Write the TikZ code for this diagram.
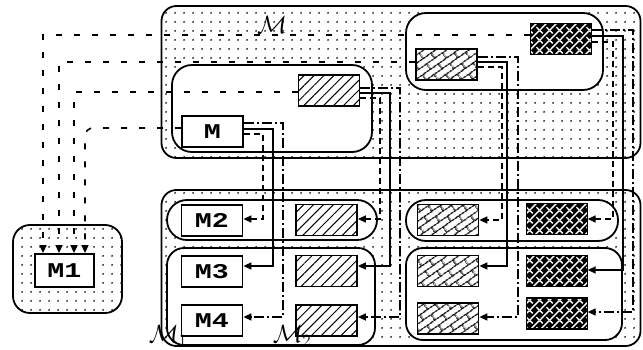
\documentclass[tikz,border=0pt]{standalone}
\usepackage{fontspec}
\newfontfamily\boxfont{Liberation Mono}[FakeStretch=1.35]
\usetikzlibrary{patterns,patterns.meta,arrows.meta}

\tikzdeclarepattern{
  name=sdots,
  type=uncolored,
  bottom left={(0pt,0pt)},
  top right={(9pt,9pt)},
  tile size={(9pt,9pt)},
  code={\fill (4.5pt,4.5pt) circle (1.05pt);}
}
\tikzdeclarepattern{
  name=mybrick,
  type=uncolored,
  bottom left={(0pt,0pt)},
  top right={(20pt,13pt)},
  tile size={(20pt,13pt)},
  tile transformation={rotate=35},
  code={\draw[line width=1.3pt] (0pt,3pt)--(20pt,3pt) (0pt,9.5pt)--(20pt,9.5pt)
        (5pt,3pt)--(5pt,9.5pt) (15pt,9.5pt)--(15pt,13pt) (15pt,0pt)--(15pt,3pt);}
}
\tikzdeclarepattern{
  name=myweave,
  type=colored,
  bottom left={(0pt,0pt)},
  top right={(10pt,10pt)},
  tile size={(10pt,10pt)},
  code={\fill[black] (0pt,0pt) rectangle (10pt,10pt);
        \draw[white,line width=1.5pt] (0pt,0pt)--(10pt,10pt);
        \draw[white,line width=1.5pt] (0pt,10pt)--(3pt,7pt) (7pt,3pt)--(10pt,0pt);}
}

\begin{document}
\begin{tikzpicture}[x=1pt,y=-1pt,
  cont/.style={draw, line width=1.8pt, rounded corners=15pt, pattern=sdots, inner sep=0pt},
  inbox/.style={draw, line width=1.8pt, fill=white, inner sep=0pt},
  mbox/.style={draw, line width=1.8pt, fill=white, minimum width=61pt, minimum height=31pt,
    inner sep=0pt, font=\boxfont\bfseries\fontsize{21}{21}\selectfont},
  hatchb/.style={draw, line width=1.8pt, minimum width=61pt, minimum height=31pt, inner sep=0pt,
    pattern={Lines[angle=45,distance=7pt,line width=1pt]}},
  brickb/.style={draw, line width=1.8pt, minimum width=61pt, minimum height=31pt, inner sep=0pt,
    pattern=mybrick},
  darkb/.style={fill=black, minimum width=61pt, minimum height=31pt, inner sep=0pt,
    postaction={pattern=myweave}, postaction={draw, line width=1.8pt}},
  tipc/.style={-{Triangle[length=8pt,width=7pt]}},
  solc/.style={line width=1.6pt, tipc},
  dashc/.style={solc, dash pattern=on 6pt off 4pt},
  ddc/.style={solc, dash pattern=on 10pt off 3pt on 2pt off 3pt},
  m1c/.style={line width=1.6pt, tipc, dash pattern=on 6pt off 12pt},
  lab/.style={inner sep=0pt, font=\fontsize{23}{23}\selectfont}
]
\useasboundingbox (0,0) rectangle (643,350);

% containers
\node[cont, minimum width=479pt, minimum height=152pt] (Mc) at (401,82) {};
\node[cont, minimum width=479pt, minimum height=156pt] (Mb) at (401,268) {};
\node[cont, rounded corners=17pt, minimum width=109pt, minimum height=88pt] (M1c) at (67.5,269) {};

% inner rounded boxes
\node[inbox, rounded corners=20pt, minimum width=200pt, minimum height=87pt] (tl) at (272,108.5) {};
\node[inbox, rounded corners=20pt, minimum width=197pt, minimum height=77pt] (tr) at (504.5,51.5) {};
\node[inbox, rounded corners=20pt, minimum width=210pt, minimum height=40pt] (lp) at (272,220) {};
\node[inbox, rounded corners=17pt, minimum width=208pt, minimum height=97pt] (ll) at (271,296.5) {};
\node[inbox, rounded corners=20pt, minimum width=212pt, minimum height=41pt] (rp) at (512,220.5) {};
\node[inbox, rounded corners=17pt, minimum width=216pt, minimum height=92pt] (rl) at (514,294) {};

% top boxes
\node[mbox] (M) at (212.5,131.5) {M};
\node[hatchb] (hT) at (329,90.5) {};
\node[brickb] (bT) at (446.5,64.5) {};
\node[darkb] (dT) at (561,39) {};

% M1
\node[mbox, minimum width=59pt, minimum height=33pt] (M1) at (64.5,270.5) {M1};

% bottom boxes
\node[mbox] (M2) at (212,220.5) {M2};
\node[mbox] (M3) at (212,271.5) {M3};
\node[mbox] (M4) at (212,320.5) {M4};
\node[hatchb] (h1) at (326.5,220) {};
\node[hatchb] (h2) at (326.5,271) {};
\node[hatchb] (h3) at (326.5,320.5) {};
\node[brickb] (b1) at (448,220) {};
\node[brickb] (b2) at (448,271) {};
\node[brickb] (b3) at (448,318.5) {};
\node[darkb] (d1) at (557,219) {};
\node[darkb] (d2) at (557,271) {};
\node[darkb] (d3) at (557,313.5) {};

% connectors from M
\draw[ddc] (M.east |- 0,123) -| (283,317) -- (M4.east |- 0,317);
\draw[solc] (M.east |- 0,129) -| (273,266) -- (M3.east |- 0,266);
\draw[dashc] (M.east |- 0,134) -| (263,219) -- (M2.east |- 0,219);
% from hatched
\draw[ddc] (hT.east |- 0,88) -| (400,317) -- (h3.east |- 0,317);
\draw[solc] (hT.east |- 0,93) -| (390,266) -- (h2.east |- 0,266);
\draw[dashc] (hT.east |- 0,98) -| (380,219) -- (h1.east |- 0,219);
% from brick
\draw[ddc] (bT.east |- 0,57) -| (518,317) -- (b3.east |- 0,317);
\draw[solc] (bT.east |- 0,62) -| (507,266) -- (b2.east |- 0,266);
\draw[dashc] (bT.east |- 0,67) -| (502,220) -- (b1.east |- 0,220);
% from dark
\draw[ddc] (dT.east |- 0,30) -| (633,312) -- (d3.east |- 0,312);
\draw[solc] (dT.east |- 0,36) -| (623,270) -- (d2.east |- 0,270);
\draw[dashc] (dT.east |- 0,42) -| (613,219) -- (d1.east |- 0,219);

% to M1
\draw[m1c] (dT.west |- 0,35) -| (M1.north -| 43,0);
\draw[m1c] (bT.west |- 0,62) -| (M1.north -| 59,0);
\draw[m1c] (hT.west |- 0,92) -| (M1.north -| 74,0);
\draw[m1c, rounded corners=8pt] (M.west |- 0,128) -| (M1.north -| 85,0);

% labels
\node[lab] (lM) at (272,25) {$\mathcal{M}$};
\node[lab] (lM1) at (168,336) {$\mathcal{M}_1$};
\node[lab] (lM2) at (292,336) {$\mathcal{M}_2$};
\end{tikzpicture}
\end{document}
